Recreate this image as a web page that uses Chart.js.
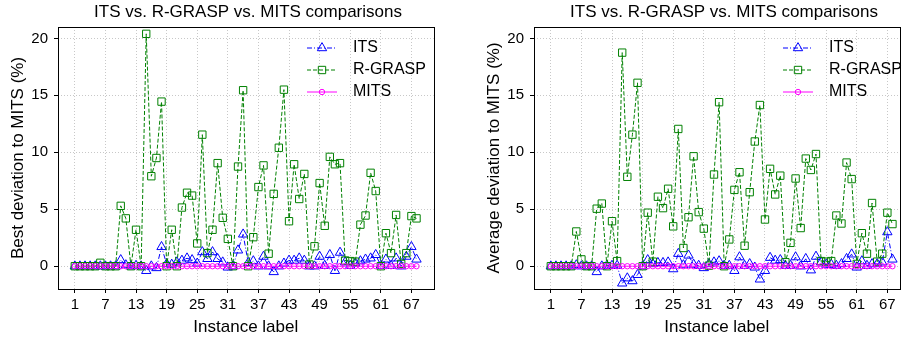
<!DOCTYPE html>
<html>
<head>
<meta charset="utf-8">
<script src="https://cdn.jsdelivr.net/npm/chart.js@4.4.0/dist/chart.umd.min.js"></script>
<style>
  html, body { margin: 0; padding: 0; background: #fff; }
  .wrap { position: absolute; top: 0; height: 341px; }
</style>
</head>
<body>
<div class="wrap" style="left:0;width:440px"><canvas id="bestChart" width="440" height="341"></canvas></div>
<div class="wrap" style="left:476px;width:430px"><canvas id="avgChart" width="430" height="341"></canvas></div>
<script>
const instances = Array.from({ length: 68 }, (_, i) => i + 1);
const xTicks = [1, 7, 13, 19, 25, 31, 37, 43, 49, 55, 61, 67];
const yTicks = [0, 5, 10, 15, 20];

// best deviation (left)
const bestITS = [0, 0, 0, 0, 0, 0, 0, 0, 0, 0.55, 0.1, 0, 0.05, 0, -0.4, 0, -0.15, 1.7, 0.2, 0.15,
  0.35, 0.5, 0.7, 0.55, 0.25, 1.25, 0.65, 1.25, 0.65, 0.35, -0.1, 0, 1.4, 2.8, 0.3, 0.45, 0, 0.85, 0, -0.5,
  0, 0.25, 0.5, 0.5, 0.7, 0.5, 0, 0, 0.85, 0.05, 1.0, -0.4, 1.2, 0.35, 0.05, 0.25, 0.45, 0.6, 0.7, 1.0,
  0.05, 0.6, 0.05, 0.7, 0, 0.85, 1.7, 0.6];
const bestGRASP = [0, 0, 0, 0, 0, 0.3, 0, 0, 0, 5.3, 4.2, 0, 3.2, 0, 20.4, 7.9, 9.5, 14.45, 0, 3.2,
  0, 5.15, 6.45, 6.2, 2.0, 11.55, 1.15, 3.2, 9.05, 4.25, 2.4, 0, 8.75, 15.45, 0, 2.55, 6.95, 8.85, 1.1, 6.35,
  10.4, 15.5, 3.95, 8.95, 5.9, 8.1, 0.15, 1.75, 7.3, 3.55, 9.6, 8.95, 9.05, 0.5, 0.45, 0.4, 3.65, 4.45, 8.2, 6.6,
  0, 2.9, 1.15, 4.5, 0.2, 1.15, 4.4, 4.2];

// average deviation (right)
const avgITS = [0, 0, 0, 0, 0, 0.1, 0, 0, 0, -0.5, 0, 0.05, 0.05, 0.05, -1.5, -1.05, -1.3, -0.75, 0, 0.55,
  0.2, 0.3, 0.3, 0.35, -0.25, 1.1, 0.1, 0.95, 0.15, 0.05, -0.15, 0.2, 0.35, 0.45, 0.05, 0.05, -0.4, 0.8, 0.05, 0.2,
  -0.1, -1.15, -0.4, 0.75, 0.5, 0.55, 0.05, 0.05, 0.8, 0, 0.65, -0.35, 0.85, 0.35, 0.15, 0.15, 0.05, 0.2, 0.65, 1.05,
  -0.1, 0.45, 0.05, 0.2, 0.2, 0.35, 3.0, 0.6];
const avgGRASP = [0, 0, 0, 0, 0, 3.05, 0.6, 0, 0, 5.05, 5.5, 0, 3.95, 0.45, 18.75, 7.85, 11.55, 16.1, 0, 4.7,
  0.4, 6.1, 5.1, 6.8, 3.5, 12.05, 1.6, 4.3, 9.65, 4.75, 3.3, 0.05, 8.05, 14.4, 0, 2.35, 6.7, 8.25, 1.8, 6.5,
  10.95, 14.15, 4.1, 8.55, 6.3, 7.95, 0.35, 2.05, 7.7, 3.35, 9.45, 8.45, 9.85, 0.45, 0.4, 0.45, 4.45, 3.75, 9.1, 7.65,
  0.2, 2.9, 1.1, 5.55, 0.4, 1.1, 4.7, 3.7];

const mits = [0, 0, 0, 0, 0, 0, 0, 0, 0, 0, 0, 0, 0, 0, 0, 0, 0, 0, 0, 0,
  0, 0, 0, 0, 0, 0, 0, 0, 0, 0, 0, 0, 0, 0, 0, 0, 0, 0, 0, 0,
  0, 0, 0, 0, 0, 0, 0, 0, 0, 0, 0, 0, 0, 0, 0, 0, 0, 0, 0, 0,
  0, 0, 0, 0, 0, 0, 0, 0];

const FONT = '"Liberation Sans", Arial, sans-serif';
const titleText = 'ITS vs. R-GRASP vs. MITS comparisons';

const toPoints = arr => instances.map((x, i) => ({ x: x, y: arr[i] }));

// box around plot + title + legend (matplotlib look)
const extrasPlugin = {
  id: 'extras',
  afterDraw(chart) {
    const ctx = chart.ctx;
    const a = chart.chartArea;
    ctx.save();
    ctx.strokeStyle = '#000';
    ctx.lineWidth = 1;
    ctx.setLineDash([]);
    ctx.strokeRect(Math.round(a.left) + 0.5, Math.round(a.top) + 0.5,
      Math.round(a.right - a.left), Math.round(a.bottom - a.top));

    ctx.fillStyle = '#000';
    ctx.font = '17px ' + FONT;
    ctx.textAlign = 'center';
    ctx.textBaseline = 'middle';
    ctx.fillText(titleText, 248, 12);

    // legend
    [0, 1, 2].forEach((di, k) => {
      const ds = chart.data.datasets[di];
      const y = 48 + k * 22;
      ctx.strokeStyle = ds.borderColor;
      ctx.lineWidth = 1;
      ctx.setLineDash(ds.borderDash || []);
      ctx.beginPath();
      ctx.moveTo(307, y);
      ctx.lineTo(337, y);
      ctx.stroke();
      ctx.setLineDash([]);
      ctx.fillStyle = 'rgba(0,0,0,0)';
      Chart.helpers.drawPoint(ctx, { pointStyle: ds.pointStyle, radius: ds.pointRadius, borderWidth: 1, rotation: 0 }, 322, y);
      ctx.fillStyle = '#000';
      ctx.font = '16px ' + FONT;
      ctx.textAlign = 'left';
      ctx.fillText(ds.label, 353, y);
    });
    ctx.restore();
  }
};

function makeChart(id, yTitle, itsVals, graspVals, xMax, padRight) {
  const data = {
    datasets: [
      {
        label: 'ITS',
        data: toPoints(itsVals),
        borderColor: '#0000ff',
        borderWidth: 1,
        borderDash: [5, 2, 1, 2],
        pointStyle: 'triangle',
        pointRadius: 5.4,
        pointBorderWidth: 1,
        pointBackgroundColor: 'rgba(0,0,0,0)',
        order: 2
      },
      {
        label: 'R-GRASP',
        data: toPoints(graspVals),
        borderColor: '#008000',
        borderWidth: 1,
        borderDash: [4, 2],
        pointStyle: 'rect',
        pointRadius: 5.2,
        pointBorderWidth: 1,
        pointBackgroundColor: 'rgba(0,0,0,0)',
        order: 1
      },
      {
        label: 'MITS',
        data: toPoints(mits),
        borderColor: '#ff00ff',
        borderWidth: 1,
        borderDash: [],
        pointStyle: 'circle',
        pointRadius: 2.7,
        pointBorderWidth: 1,
        pointBackgroundColor: 'rgba(0,0,0,0)',
        order: 0
      }
    ]
  };

  const config = {
    type: 'line',
    data: data,
    options: {
      responsive: false,
      animation: false,
      layout: { padding: { top: 27, right: padRight, left: 0, bottom: 0 } },
      plugins: {
        legend: { display: false },
        title: { display: false },
        tooltip: { enabled: false }
      },
      elements: { line: { tension: 0 } },
      scales: {
        x: {
          type: 'linear',
          min: -2.3,
          max: xMax,
          afterBuildTicks: s => { s.ticks = xTicks.map(v => ({ value: v })); },
          afterFit: s => { s.height = 52; },
          grid: { color: '#c8c8c8', lineWidth: 1, drawTicks: true, tickLength: 4, tickColor: '#000', tickBorderDash: [], tickWidth: 1 },
          border: { display: false, dash: [1, 2] },
          ticks: {
            color: '#000', font: { family: FONT, size: 15 }, padding: 3,
            maxRotation: 0, autoSkip: false, callback: v => String(v)
          },
          title: { display: true, text: 'Instance label', color: '#000', font: { family: FONT, size: 17 }, padding: { top: 0, bottom: 3 } }
        },
        y: {
          min: -2,
          max: 21,
          afterBuildTicks: s => { s.ticks = yTicks.map(v => ({ value: v })); },
          afterFit: s => { s.width = 58; },
          grid: { color: '#c8c8c8', lineWidth: 1, drawTicks: true, tickLength: 4, tickColor: '#000', tickBorderDash: [], tickWidth: 1 },
          border: { display: false, dash: [1, 2] },
          ticks: { color: '#000', font: { family: FONT, size: 15 }, padding: 6, callback: v => String(v) },
          title: { display: true, text: yTitle, color: '#000', font: { family: FONT, size: 17 }, padding: { top: 8, bottom: 0 } }
        }
      }
    },
    plugins: [extrasPlugin]
  };

  return new Chart(document.getElementById(id), config);
}

makeChart('bestChart', 'Best deviation to MITS (%)', bestITS, bestGRASP, 71.35, 4);
makeChart('avgChart', 'Average deviation to MITS (%)', avgITS, avgGRASP, 69.4, 2);
</script>
</body>
</html>
